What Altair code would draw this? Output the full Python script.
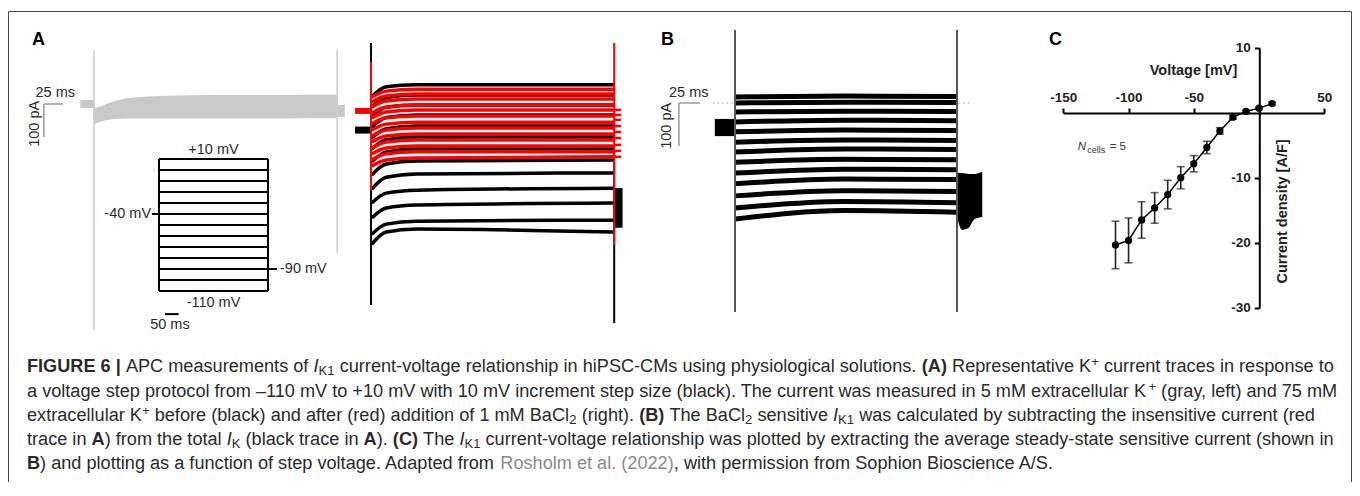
import altair as alt
import pandas as pd

W, H = 1344, 474
FONT = "Liberation Sans"
INK = "#2a2a2a"

# ---------------- Panel C: I-V relationship ----------------
volt = [-110, -100, -90, -80, -70, -60, -50, -40, -30, -20, -10, 0, 10]
dens = [-20.35, -19.65, -16.5, -14.65, -12.6, -10.0, -7.85, -5.35, -2.8, -0.7, 0.2, 0.7, 1.4]
sem = [3.65, 3.45, 2.8, 2.35, 2.2, 1.7, 1.25, 0.95, 0.5, 0.3, 0.2, 0.2, 0.2]
c_xticks = [-150, -100, -50, 50]
c_yticks = [10, -10, -20, -30]

# ---------------- Panel A (left): 5 mM K+ gray band envelope (ms, pA) ----------------
gray_hold_t = [-18, 0]
gray_hold_top = [12, 12]
gray_hold_bot = [-12, -12]
gray_step_t = [0, 8, 20, 35, 60, 100, 160, 220, 280, 320]
gray_step_top = [-12, -8, 4, 14, 21, 25, 27, 27, 28, 28]
gray_step_bot = [-62, -54, -48, -45, -44, -44, -44, -44, -43, -43]
gray_tail_t = [320, 330]
gray_tail_top = [-3, -3]
gray_tail_bot = [-39, -39]
gray_spike_t = [0, 320]
gray_spike_hi = [164, 164]
gray_spike_lo = [-685, -452]

# ---------------- Panel A (right): 75 mM K+ black (before) / red (BaCl2) ----------------
a_times = [1, 20, 60, 320]
black_start = [22, -9, -39, -70, -103, -136, -175, -215, -258, -300, -345, -395, -425]
black_early = [52, 20, -10, -41, -75, -108, -145, -182, -222, -270, -315, -364, -388]
black_steady = [58, 27, -3, -33, -67, -100, -136, -173, -212, -261, -306, -355, -379]
black_end = [58, 27, -3, -33, -67, -100, -136, -170, -209, -255, -300, -352, -388]
red_start = [21, 6, -9, -27, -42, -60, -79, -97, -115, -133, -151, -169, -188]
red_early = [39, 24, 9, -9, -24, -42, -61, -79, -97, -115, -133, -151, -170]
red_steady = [45, 30, 15, -3, -18, -36, -55, -73, -91, -109, -127, -145, -164]
red_end = [45, 30, 15, -3, -18, -36, -55, -73, -91, -109, -127, -145, -160]
red_hold_I = -21
black_hold_I = -79
hold_t = [-21, 0]
red_tail_I = [-18, -33, -48, -67, -85, -103, -124, -142, -160]
red_tail_t = [320, 329]
black_tail_t = [320, 331]
black_tail_top = [-255, -255]
black_tail_bot = [-375, -375]
ar_spike_t = [0, 0, 320, 320]
ar_spike_hi = [185, 127, -139, 185]
ar_spike_lo = [-609, -261, -664, -427]
ar_spike_col = ["black", "red", "black", "red"]

# ---------------- Panel B: BaCl2-sensitive current ----------------
b_times = [0, 130, 264]
b_start = [14, 0, -21, -44, -67, -91, -114, -138, -163, -188, -216, -244, -270]
b_mid = [16, 2, -19, -40, -63, -86, -107, -131, -154, -177, -204, -229, -250]
b_end = [15, 1, -20, -41, -64, -87, -108, -132, -155, -178, -206, -232, -254]
b_hold_t = [-24, 0]
b_hold_top = [-37, -37]
b_hold_bot = [-77, -77]
b_tail_t = [264, 270, 278, 285, 294]
b_tail_top = [-163, -163, -165, -165, -160]
b_tail_bot = [-265, -295, -290, -270, -265]
b_edge_t = [0, 264]
b_edge_hi = [170, 170]
b_edge_lo = [-486, -486]

# ---------------- voltage protocol inset ----------------
proto_levels = [10, 0, -10, -20, -30, -40, -50, -60, -70, -80, -90, -100, -110]
proto_dur = [0, 400]

# ---------------- caption ----------------
cap_lines = [
    [("b", "FIGURE 6 |"), ("r", " APC measurements of "), ("i", "I"), ("sub", "K1"),
     ("r", " current-voltage relationship in hiPSC-CMs using physiological solutions. "),
     ("b", "(A)"), ("r", " Representative K"), ("sup", "+"), ("r", " current traces in response to")],
    [("r", "a voltage step protocol from \u2013110 mV to +10 mV with 10 mV increment step size (black). "
           "The current was measured in 5 mM extracellular K"), ("sup", "+"), ("r", " (gray, left) and 75 mM")],
    [("r", "extracellular K"), ("sup", "+"), ("r", " before (black) and after (red) addition of 1 mM BaCl"),
     ("sub", "2"), ("r", " (right). "), ("b", "(B)"), ("r", " The BaCl"), ("sub", "2"), ("r", " sensitive "),
     ("i", "I"), ("sub", "K1"), ("r", " was calculated by subtracting the insensitive current (red")],
    [("r", "trace in "), ("b", "A"), ("r", ") from the total "), ("i", "I"), ("sub", "K"), ("r", " (black trace in "),
     ("b", "A"), ("r", "). "), ("b", "(C)"), ("r", " The "), ("i", "I"), ("sub", "K1"),
     ("r", " current-voltage relationship was plotted by extracting the average steady-state sensitive current (shown in")],
    [("b", "B"), ("r", ") and plotting as a function of step voltage. Adapted from "), ("link", "Rosholm et al. (2022)"),
     ("r", ", with permission from Sophion Bioscience A/S.")],
]

# ---------------- Arial / Liberation Sans advance widths (1/1000 em) ----------------
_chars = (" !\"#$%&'()*+,-./0123456789:;<=>?@ABCDEFGHIJKLMNOPQRSTUVWXYZ[\\]^_"
          "abcdefghijklmnopqrstuvwxyz|\u2013")
_w = ([278, 278, 355, 556, 556, 889, 667, 191, 333, 333, 389, 584, 278, 333, 278, 278]
      + [556] * 10 + [278, 278, 584, 584, 584, 556, 1015]
      + [667, 667, 722, 722, 667, 611, 778, 722, 278, 500, 667, 556, 833, 722, 778, 667, 778, 722, 667, 611,
         722, 667, 944, 667, 667, 611]
      + [278, 278, 278, 469, 556]
      + [556, 556, 500, 556, 556, 278, 556, 556, 222, 222, 500, 222, 833, 556, 556, 556, 556, 333, 500, 278,
         556, 500, 722, 500, 500, 500]
      + [260, 556])
REG = dict(zip(_chars, _w))
BOLD = {" ": 278, "(": 333, ")": 333, "|": 280, "6": 556, "A": 722, "B": 722, "C": 722, "E": 667,
        "F": 611, "G": 778, "I": 278, "R": 722, "U": 722}
SUBF = 0.72


def seg_units(style, txt):
    if style == "b":
        u = sum(BOLD.get(c, REG.get(c, 556)) for c in txt)
    else:
        u = sum(REG.get(c, 556) for c in txt)
    return u * SUBF if style in ("sub", "sup") else u


CAP_X0 = 19.0
CAP_W = 1307.0
CAP_Y = [359, 383.5, 408, 432, 456]
cap_fs = CAP_W * 1000 / sum(seg_units(s, t) for s, t in cap_lines[0])
cap_rows = []
for li, line in enumerate(cap_lines):
    x = CAP_X0
    for style, txt in line:
        fs = cap_fs * (SUBF if style in ("sub", "sup") else 1)
        lead = len(txt) - len(txt.lstrip(" "))
        xs = x + lead * REG[" "] * fs / 1000
        dy = 4 if style == "sub" else (-5 if style == "sup" else 0)
        cap_rows.append(dict(x=xs, y=CAP_Y[li] + dy, txt=txt.strip(" "), style=style))
        x += seg_units(style, txt) * cap_fs / 1000
cap_df = pd.DataFrame(cap_rows)


# ---------------- scales ----------------
def sc(domain, rng):
    return alt.Scale(domain=domain, range=rng, nice=False, zero=False)


AG_X = sc([0, 320], [86, 329.2])
AR_X = sc([0, 320], [363, 606.2])
A_Y = sc([-700, 200], [327, 30])
P_X = sc([0, 400], [151, 260])
P_Y = sc([-110, 10], [283, 151])
B_X = sc([0, 264], [727, 949])
B_Y = sc([-500, 200], [310, 9])
C_X = sc([-150, 50], [1055.3, 1316.3])
C_Y = sc([-30, 10], [299.7, 39.7])


def X(f, s):
    return alt.X(f + ":Q", scale=s, axis=None)


def Y(f, s):
    return alt.Y(f + ":Q", scale=s, axis=None)


def PX(f):
    return alt.X(f + ":Q", scale=None, axis=None)


def PY(f):
    return alt.Y(f + ":Q", scale=None, axis=None)


def traces(times, cols):
    rows = []
    for k in range(len(cols[0])):
        for t, col in zip(times, cols):
            rows.append({"trace": k, "t": t, "I": col[k]})
    return pd.DataFrame(rows)


layers = []

# ---- Panel A gray ----
gray_df = pd.concat([
    pd.DataFrame({"seg": "hold", "t": gray_hold_t, "top": gray_hold_top, "bot": gray_hold_bot}),
    pd.DataFrame({"seg": "step", "t": gray_step_t, "top": gray_step_top, "bot": gray_step_bot}),
    pd.DataFrame({"seg": "tail", "t": gray_tail_t, "top": gray_tail_top, "bot": gray_tail_bot}),
])
layers.append(alt.Chart(gray_df).mark_area(color="#c9c9c9", interpolate="monotone").encode(
    x=X("t", AG_X), y=Y("top", A_Y), y2="bot", detail="seg:N"))
layers.append(alt.Chart(pd.DataFrame({"t": gray_spike_t, "hi": gray_spike_hi, "lo": gray_spike_lo}))
              .mark_rule(color="#cfcfcf", strokeWidth=1.6).encode(x=X("t", AG_X), y=Y("hi", A_Y), y2="lo"))

# scale bar A
sbA = pd.DataFrame({"t": [-66, -66], "t2": [-41, -66], "I": [0, 0], "I2": [0, -100]})
layers.append(alt.Chart(sbA).mark_rule(color="#9a9a9a", strokeWidth=1.5).encode(
    x=X("t", AG_X), x2="t2", y=Y("I", A_Y), y2="I2"))
layers.append(alt.Chart(pd.DataFrame({"t": [-51], "I": [33], "s": ["25 ms"]})).mark_text(
    font=FONT, fontSize=14.5, color=INK, align="center", baseline="middle").encode(
    x=X("t", AG_X), y=Y("I", A_Y), text="s:N"))
layers.append(alt.Chart(pd.DataFrame({"t": [-78], "I": [-60], "s": ["100 pA"]})).mark_text(
    font=FONT, fontSize=14.5, color=INK, align="center", baseline="middle", angle=270).encode(
    x=X("t", AG_X), y=Y("I", A_Y), text="s:N"))

# ---- protocol inset ----
proto_h = pd.DataFrame({"t": [proto_dur[0]] * len(proto_levels), "t2": [proto_dur[1]] * len(proto_levels),
                        "V": proto_levels})
proto_extra = pd.DataFrame({"t": [-26, 400, 22], "t2": [0, 433, 72], "V": [-40, -90, -131]})
layers.append(alt.Chart(pd.DataFrame({"t": [-22], "t2": [418], "V": [0]})).mark_rule(
    color="#bdbdbd", strokeWidth=1, strokeDash=[2, 2]).encode(x=X("t", P_X), x2="t2", y=Y("V", P_Y)))
layers.append(alt.Chart(pd.concat([proto_h, proto_extra])).mark_rule(color="black", strokeWidth=2).encode(
    x=X("t", P_X), x2="t2", y=Y("V", P_Y)))
layers.append(alt.Chart(pd.DataFrame({"t": proto_dur, "V": [10, 10], "V2": [-110, -110]})).mark_rule(
    color="black", strokeWidth=2).encode(x=X("t", P_X), y=Y("V", P_Y), y2="V2"))
proto_lab_c = pd.DataFrame({"t": [200, 200, 40], "V": [18.5, -121, -141], "s": ["+10 mV", "-110 mV", "50 ms"]})
layers.append(alt.Chart(proto_lab_c).mark_text(font=FONT, fontSize=14.5, color=INK, align="center",
                                               baseline="middle").encode(
    x=X("t", P_X), y=Y("V", P_Y), text="s:N"))
layers.append(alt.Chart(pd.DataFrame({"t": [-29], "V": [-40], "s": ["-40 mV"]})).mark_text(
    font=FONT, fontSize=14.5, color=INK, align="right", baseline="middle").encode(
    x=X("t", P_X), y=Y("V", P_Y), text="s:N"))
layers.append(alt.Chart(pd.DataFrame({"t": [444], "V": [-90], "s": ["-90 mV"]})).mark_text(
    font=FONT, fontSize=14.5, color=INK, align="left", baseline="middle").encode(
    x=X("t", P_X), y=Y("V", P_Y), text="s:N"))

# ---- Panel A red / black ----
layers.append(alt.Chart(pd.DataFrame({"t": hold_t, "I": [black_hold_I] * 2})).mark_line(
    color="black", strokeWidth=7).encode(x=X("t", AR_X), y=Y("I", A_Y)))
layers.append(alt.Chart(pd.DataFrame({"t": hold_t, "I": [red_hold_I] * 2})).mark_line(
    color="#ff0000", strokeWidth=6).encode(x=X("t", AR_X), y=Y("I", A_Y)))
sp = pd.DataFrame({"t": ar_spike_t, "hi": ar_spike_hi, "lo": ar_spike_lo, "c": ar_spike_col})
layers.append(alt.Chart(sp[sp.c == "black"]).mark_rule(color="black", strokeWidth=2).encode(
    x=X("t", AR_X), y=Y("hi", A_Y), y2="lo"))
layers.append(alt.Chart(pd.DataFrame({"t": black_tail_t, "top": black_tail_top, "bot": black_tail_bot}))
              .mark_area(color="black").encode(x=X("t", AR_X), y=Y("top", A_Y), y2="bot"))
layers.append(alt.Chart(traces(a_times, [black_start, black_early, black_steady, black_end])).mark_line(
    color="black", strokeWidth=3.5, interpolate="monotone").encode(
    x=X("t", AR_X), y=Y("I", A_Y), detail="trace:N"))
layers.append(alt.Chart(traces(a_times, [red_start, red_early, red_steady, red_end])).mark_line(
    color="#ff0000", strokeWidth=3.5, interpolate="monotone").encode(
    x=X("t", AR_X), y=Y("I", A_Y), detail="trace:N"))
layers.append(alt.Chart(traces(red_tail_t, [red_tail_I, red_tail_I])).mark_line(
    color="#ff0000", strokeWidth=2.5).encode(x=X("t", AR_X), y=Y("I", A_Y), detail="trace:N"))
layers.append(alt.Chart(sp[sp.c == "red"]).mark_rule(color="#ff0000", strokeWidth=2).encode(
    x=X("t", AR_X), y=Y("hi", A_Y), y2="lo"))

# ---- Panel B ----
layers.append(alt.Chart(pd.DataFrame({"t": [-26, 266], "t2": [0, 282], "I": [0, 0]})).mark_rule(
    color="#9a9a9a", strokeWidth=1, strokeDash=[1.5, 3]).encode(x=X("t", B_X), x2="t2", y=Y("I", B_Y)))
layers.append(alt.Chart(pd.DataFrame({"t": b_hold_t, "top": b_hold_top, "bot": b_hold_bot})).mark_area(
    color="black").encode(x=X("t", B_X), y=Y("top", B_Y), y2="bot"))
layers.append(alt.Chart(pd.DataFrame({"t": b_tail_t, "top": b_tail_top, "bot": b_tail_bot})).mark_area(
    color="black", interpolate="monotone").encode(x=X("t", B_X), y=Y("top", B_Y), y2="bot"))
layers.append(alt.Chart(traces(b_times, [b_start, b_mid, b_end])).mark_line(
    color="black", strokeWidth=5, interpolate="monotone").encode(
    x=X("t", B_X), y=Y("I", B_Y), detail="trace:N"))
layers.append(alt.Chart(pd.DataFrame({"t": b_edge_t, "hi": b_edge_hi, "lo": b_edge_lo})).mark_rule(
    color="#555555", strokeWidth=2).encode(x=X("t", B_X), y=Y("hi", B_Y), y2="lo"))
sbB = pd.DataFrame({"t": [-66.7, -66.7], "t2": [-41.7, -66.7], "I": [0, 0], "I2": [0, -100]})
layers.append(alt.Chart(sbB).mark_rule(color="#9a9a9a", strokeWidth=1.5).encode(
    x=X("t", B_X), x2="t2", y=Y("I", B_Y), y2="I2"))
layers.append(alt.Chart(pd.DataFrame({"t": [-55], "I": [23], "s": ["25 ms"]})).mark_text(
    font=FONT, fontSize=14.5, color=INK, align="center", baseline="middle").encode(
    x=X("t", B_X), y=Y("I", B_Y), text="s:N"))
layers.append(alt.Chart(pd.DataFrame({"t": [-81], "I": [-53], "s": ["100 pA"]})).mark_text(
    font=FONT, fontSize=14.5, color=INK, align="center", baseline="middle", angle=270).encode(
    x=X("t", B_X), y=Y("I", B_Y), text="s:N"))

# ---- Panel C ----
c_df = pd.DataFrame({"V": volt, "dens": dens, "err": sem})
c_df["lo"] = c_df["dens"] - c_df["err"]
c_df["hi"] = c_df["dens"] + c_df["err"]
layers.append(alt.Chart(c_df).mark_rule(color="#222", strokeWidth=1.6).encode(
    x=X("V", C_X), y=Y("lo", C_Y), y2="hi"))
for f in ["lo", "hi"]:
    layers.append(alt.Chart(c_df).mark_tick(color="#222", orient="horizontal", size=8, thickness=1.6).encode(
        x=X("V", C_X), y=Y(f, C_Y)))
layers.append(alt.Chart(c_df).mark_line(color="black", strokeWidth=1.5).encode(
    x=X("V", C_X), y=Y("dens", C_Y)))
c_axis_common = dict(domainColor="black", domainWidth=2, tickColor="black", tickWidth=2, tickSize=5,
                     labelFont=FONT, labelFontSize=13.5, labelFontWeight="bold", labelColor="#222",
                     titleFont=FONT, titleFontSize=14.5, titleFontWeight="bold", titleColor="#222",
                     grid=False, labelFlush=False, labelOverlap=False, labelExpr="'' + datum.value")
layers.append(alt.Chart(c_df).mark_circle(color="black", size=52, opacity=1).encode(
    x=alt.X("V:Q", scale=C_X, axis=alt.Axis(orient="top", offset=-105, values=c_xticks, title="Voltage [mV]",
                                            labelPadding=4, titleX=1185, titleY=-43, titleAlign="center",
                                            titleBaseline="middle", **c_axis_common)),
    y=alt.Y("dens:Q", scale=C_Y, axis=alt.Axis(orient="left", offset=-1251.3, values=c_yticks,
                                               title="Current density [A/F]", labelPadding=4,
                                               titleAngle=270, titleX=22.7, titleY=203, titleAlign="center",
                                               titleBaseline="middle", **c_axis_common))))
ncell = pd.DataFrame({"V": [-139], "d": [-5.2]})
layers.append(alt.Chart(ncell).mark_text(font=FONT, fontSize=11.5, fontStyle="italic", color="#333",
                                         align="left", baseline="middle", text="N").encode(
    x=X("V", C_X), y=Y("d", C_Y)))
layers.append(alt.Chart(ncell).mark_text(font=FONT, fontSize=9, color="#333", align="left",
                                         baseline="middle", dx=9.5, dy=3, text="cells").encode(
    x=X("V", C_X), y=Y("d", C_Y)))
layers.append(alt.Chart(ncell).mark_text(font=FONT, fontSize=11.5, color="#333", align="left",
                                         baseline="middle", dx=32, text="= 5").encode(
    x=X("V", C_X), y=Y("d", C_Y)))

# ---- panel letters, border, caption (page layout) ----
letters = pd.DataFrame({"x": [30.5, 659.5, 1047.5], "y": [32, 32, 32], "s": ["A", "B", "C"]})
layers.append(alt.Chart(letters).mark_text(font=FONT, fontSize=18, fontWeight="bold", color="black",
                                           align="center", baseline="middle").encode(
    x=PX("x"), y=PY("y"), text="s:N"))
border = pd.DataFrame({"x": [0.5, 0.5, W - 0.5], "x2": [0.5, W - 0.5, W - 0.5],
                       "y": [3.5, 3.5, 3.5], "y2": [H, 3.5, H]})
layers.append(alt.Chart(border).mark_rule(color="#444", strokeWidth=1).encode(
    x=PX("x"), x2="x2", y=PY("y"), y2="y2"))

cap_styles = {
    "r": dict(fontSize=cap_fs, color=INK),
    "b": dict(fontSize=cap_fs, color=INK, fontWeight="bold"),
    "i": dict(fontSize=cap_fs, color=INK, fontStyle="italic"),
    "sub": dict(fontSize=cap_fs * SUBF, color=INK),
    "sup": dict(fontSize=cap_fs * SUBF, color=INK),
    "link": dict(fontSize=cap_fs, color="#8a8a8a"),
}
for st, kw in cap_styles.items():
    d = cap_df[cap_df["style"] == st]
    if len(d) == 0:
        continue
    layers.append(alt.Chart(d).mark_text(font=FONT, align="left", baseline="middle", **kw).encode(
        x=PX("x"), y=PY("y"), text="txt:N"))

chart = alt.layer(*layers).properties(
    width=W, height=H, padding=0, autosize=alt.AutoSizeParams(type="none")
).resolve_scale(x="independent", y="independent").configure_view(stroke=None)

chart.save("out.html", embed_options={"renderer": "svg", "actions": False})
